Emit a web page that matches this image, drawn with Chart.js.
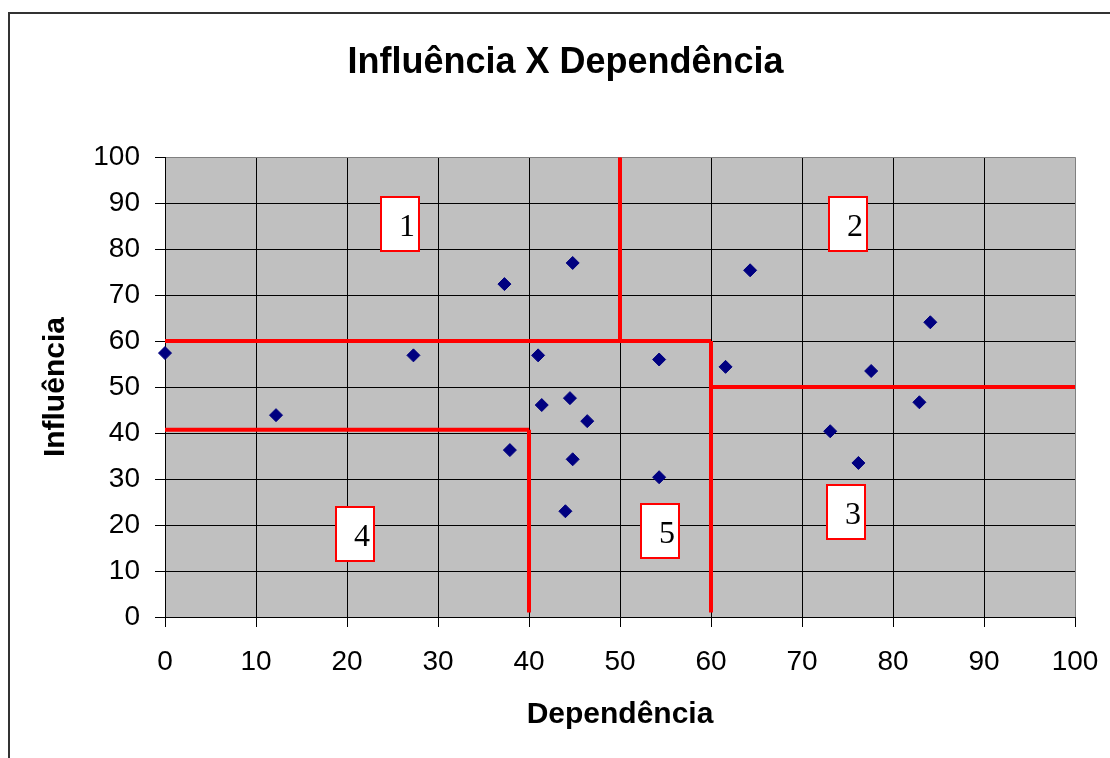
<!DOCTYPE html>
<html>
<head>
<meta charset="utf-8">
<title>Influência X Dependência</title>
<script src="https://cdn.jsdelivr.net/npm/chart.js@4/dist/chart.umd.min.js"></script>
<style>
    html, body { margin: 0; padding: 0; background: #ffffff; }
    #chartBox { width: 1110px; height: 758px; }
</style>
</head>
<body>
<div id="chartBox"><canvas id="influenceChart" width="1110" height="758"></canvas></div>
<script>
// valores
const dependencia = [0, 12.2, 27.3, 37.3, 37.9, 41.0, 41.4, 44.5, 44.8, 44.8, 44.0, 46.4, 54.3, 54.3, 61.6, 64.3, 73.1, 76.2, 77.6, 82.9, 84.1];
const influencia = [57.4, 43.9, 56.9, 72.4, 36.3, 56.9, 46.1, 47.6, 77.0, 34.3, 23.0, 42.6, 56.0, 30.4, 54.4, 75.4, 40.4, 33.5, 53.5, 46.7, 64.1];

// linhas vermelhas que dividem as zonas (x1, y1, x2, y2)
const zoneLineX1 = [0, 50, 60, 60, 0, 40];
const zoneLineY1 = [60, 60, 60, 50, 40.7, 40.7];
const zoneLineX2 = [60, 50, 60, 100, 40, 40];
const zoneLineY2 = [60, 100, 1, 50, 40.7, 1];

// caixas numeradas das zonas (centro em unidades do gráfico)
const zoneNames = ['1', '2', '3', '4', '5'];
const zoneX = [25.8, 75.0, 74.8, 20.9, 54.4];
const zoneY = [85.5, 85.5, 22.8, 18.0, 18.7];

const axisTicks = [0, 10, 20, 30, 40, 50, 60, 70, 80, 90, 100];

const sansFont = '"Liberation Sans", Arial, sans-serif';

// fundo branco, moldura e área cinza do gráfico
const backgroundPlugin = {
    id: 'backgroundPlugin',
    beforeDraw(chart) {
        const ctx = chart.ctx;
        const area = chart.chartArea;
        ctx.save();
        ctx.fillStyle = '#ffffff';
        ctx.fillRect(0, 0, chart.width, chart.height);
        ctx.strokeStyle = '#333333';
        ctx.lineWidth = 2;
        ctx.strokeRect(9, 13, chart.width + 20, chart.height + 20);
        ctx.fillStyle = '#c0c0c0';
        ctx.fillRect(area.left, area.top, area.right - area.left, area.bottom - area.top);
        ctx.restore();
    }
};

// caixas brancas com borda vermelha e número
const zoneBoxPlugin = {
    id: 'zoneBoxPlugin',
    afterDatasetsDraw(chart) {
        const ctx = chart.ctx;
        const xScale = chart.scales.x;
        const yScale = chart.scales.y;
        const boxW = 38;
        const boxH = 54;
        ctx.save();
        zoneNames.forEach((name, i) => {
            const cx = xScale.getPixelForValue(zoneX[i]);
            const cy = yScale.getPixelForValue(zoneY[i]);
            const left = Math.round(cx - boxW / 2);
            const top = Math.round(cy - boxH / 2);
            ctx.fillStyle = '#ffffff';
            ctx.fillRect(left, top, boxW, boxH);
            ctx.strokeStyle = '#ff0000';
            ctx.lineWidth = 2;
            ctx.strokeRect(left, top, boxW, boxH);
            ctx.fillStyle = '#000000';
            ctx.font = '32px "Liberation Serif", "Times New Roman", serif';
            ctx.textAlign = 'right';
            ctx.textBaseline = 'alphabetic';
            ctx.fillText(name, left + boxW - 4, top + 39);
        });
        ctx.restore();
    }
};

function buildDatasets() {
    const points = dependencia.map((x, i) => ({ x: x, y: influencia[i] }));
    const datasets = [];

    // linhas das zonas
    zoneLineX1.forEach((x1, i) => {
        datasets.push({
            type: 'line',
            data: [{ x: x1, y: zoneLineY1[i] }, { x: zoneLineX2[i], y: zoneLineY2[i] }],
            borderColor: '#ff0000',
            borderWidth: 4,
            pointRadius: 0,
            fill: false,
            order: 2
        });
    });

    // pontos (losangos azul-marinho)
    datasets.push({
        type: 'scatter',
        data: points,
        pointStyle: 'rectRot',
        pointRadius: 6.5,
        pointBackgroundColor: '#000080',
        pointBorderColor: '#000080',
        pointBorderWidth: 1,
        clip: false,
        order: 1
    });
    return datasets;
}

function gridColor(ctx) {
    return ctx.tick && ctx.tick.value === 100 ? '#808080' : '#000000';
}

document.addEventListener('DOMContentLoaded', function() {
    const ctx = document.getElementById('influenceChart').getContext('2d');

    window.influenceChart = new Chart(ctx, {
        type: 'scatter',
        data: { datasets: buildDatasets() },
        plugins: [backgroundPlugin, zoneBoxPlugin],
        options: {
            responsive: false,
            devicePixelRatio: 1,
            animation: false,
            layout: {
                padding: { left: 21, right: 0, top: 0, bottom: 0 }
            },
            plugins: {
                legend: { display: false },
                tooltip: { enabled: false },
                title: {
                    display: true,
                    text: 'Influência X Dependência',
                    color: '#000000',
                    font: { family: sansFont, size: 36, weight: 'bold' },
                    padding: { top: 41, bottom: 73 }
                }
            },
            scales: {
                x: {
                    type: 'linear',
                    min: 0,
                    max: 100,
                    afterBuildTicks: scale => { scale.ticks = axisTicks.map(v => ({ value: v })); },
                    afterFit: scale => {
                        scale.height = 141;
                        scale.paddingRight = 35;
                    },
                    ticks: {
                        color: '#000000',
                        font: { family: sansFont, size: 28 },
                        padding: 18,
                        autoSkip: false,
                        maxRotation: 0
                    },
                    grid: {
                        color: gridColor,
                        tickColor: '#000000',
                        lineWidth: 1,
                        tickLength: 10
                    },
                    border: { color: '#000000', width: 1 },
                    title: {
                        display: true,
                        text: 'Dependência',
                        color: '#000000',
                        font: { family: sansFont, size: 30, weight: 'bold' },
                        padding: { top: 0, bottom: 25 }
                    }
                },
                y: {
                    type: 'linear',
                    min: 0,
                    max: 100,
                    afterBuildTicks: scale => { scale.ticks = axisTicks.map(v => ({ value: v })); },
                    afterFit: scale => { scale.width = 144; },
                    ticks: {
                        color: '#000000',
                        font: { family: sansFont, size: 28 },
                        padding: 15,
                        autoSkip: false
                    },
                    grid: {
                        color: gridColor,
                        tickColor: '#000000',
                        lineWidth: 1,
                        tickLength: 10
                    },
                    border: { color: '#000000', width: 1 },
                    title: {
                        display: true,
                        text: 'Influência',
                        color: '#000000',
                        font: { family: sansFont, size: 30, weight: 'bold' },
                        padding: { top: 17, bottom: 0 }
                    }
                }
            }
        }
    });
});
</script>
</body>
</html>
